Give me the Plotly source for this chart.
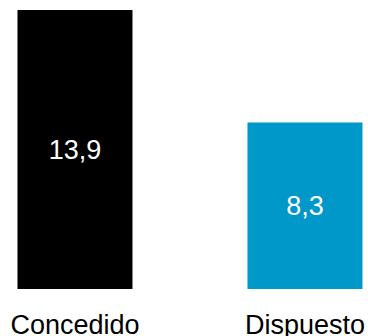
import plotly.graph_objects as go

# Datos
categorias = ['Concedido', 'Dispuesto']
valores = [13.9, 8.3]
etiquetas = ['13,9', '8,3']
colores = ['#000000', '#0098C9']

fig = go.Figure(go.Bar(
    x=categorias,
    y=valores,
    text=etiquetas,
    textposition='inside',
    insidetextanchor='middle',
    textfont=dict(family='Liberation Sans, Arial', size=27, color='white'),
    marker=dict(color=colores, line=dict(width=0)),
    width=0.5,
    hoverinfo='skip',
))

fig.update_layout(
    width=368, height=336,
    margin=dict(l=0, r=0, t=0, b=47, autoexpand=False),
    paper_bgcolor='white', plot_bgcolor='white',
    showlegend=False,
    font=dict(family='Liberation Sans, Arial', color='#000000'),
)
fig.update_xaxes(
    range=[-0.326, 1.274],
    automargin=False,
    showline=False, showgrid=False, zeroline=False,
    ticks='outside', ticklen=12, tickcolor='white',
    tickfont=dict(size=27),
)
fig.update_yaxes(
    range=[0, 14.398],
    automargin=False,
    visible=False, showgrid=False, zeroline=False,
)

# quitar el margen por defecto del body para que la figura llene la ventana
fig.write_html("out.html",
               config={'displayModeBar': False},
               post_script="document.body.style.margin='0';document.body.style.overflow='hidden';")
